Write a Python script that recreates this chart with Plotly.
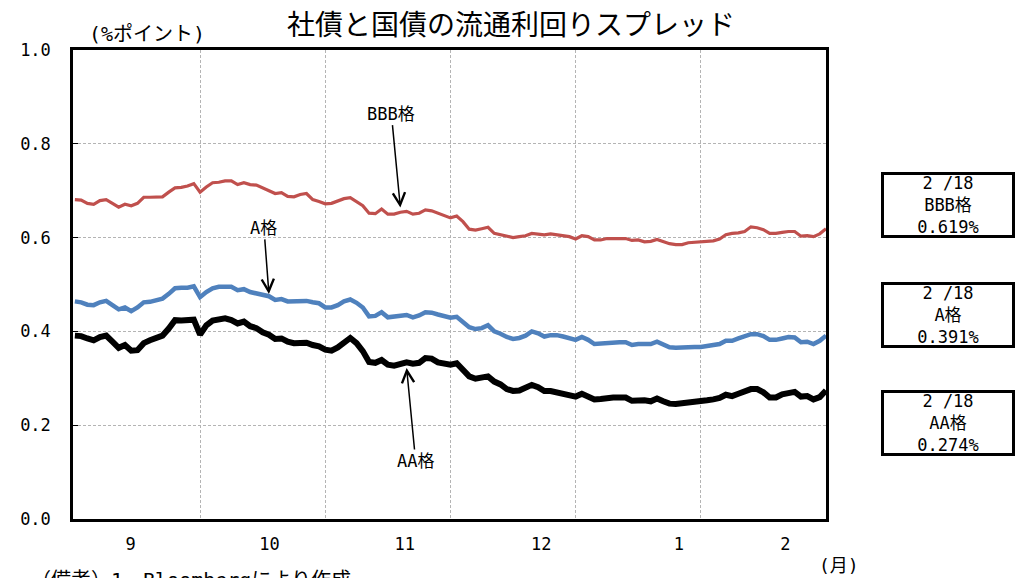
import plotly.graph_objects as go

# ---- data (business-day index 0..120) ----
bbb = [0.681,0.680,0.673,0.671,0.679,0.681,0.673,0.665,0.671,0.668,
       0.673,0.686,0.686,0.686,0.687,0.697,0.706,0.707,0.710,0.715,
       0.697,0.708,0.717,0.718,0.721,0.721,0.713,0.717,0.713,0.712,
       0.706,0.700,0.694,0.696,0.688,0.687,0.692,0.694,0.681,0.677,
       0.672,0.673,0.678,0.683,0.685,0.677,0.668,0.652,0.651,0.661,
       0.650,0.650,0.654,0.656,0.650,0.652,0.659,0.657,0.652,0.648,
       0.642,0.646,0.634,0.618,0.616,0.619,0.622,0.609,0.606,0.602,
       0.600,0.602,0.604,0.609,0.608,0.606,0.608,0.606,0.605,0.602,
       0.597,0.604,0.602,0.595,0.595,0.598,0.598,0.598,0.598,0.594,
       0.595,0.591,0.592,0.596,0.591,0.587,0.585,0.585,0.589,0.590,
       0.590,0.592,0.593,0.597,0.606,0.609,0.610,0.613,0.623,0.621,
       0.617,0.609,0.609,0.611,0.613,0.613,0.603,0.604,0.602,0.608,
       0.619]
a_grade = [0.464,0.462,0.457,0.456,0.462,0.465,0.456,0.447,0.451,0.443,
           0.451,0.462,0.463,0.467,0.470,0.480,0.492,0.493,0.493,0.496,
           0.473,0.484,0.492,0.495,0.496,0.495,0.488,0.490,0.484,0.481,
           0.477,0.475,0.467,0.469,0.464,0.465,0.466,0.465,0.462,0.460,
           0.451,0.451,0.456,0.464,0.468,0.461,0.451,0.432,0.433,0.441,
           0.430,0.431,0.433,0.435,0.430,0.434,0.441,0.440,0.436,0.433,
           0.429,0.431,0.420,0.409,0.405,0.407,0.413,0.400,0.395,0.388,
           0.384,0.386,0.391,0.400,0.396,0.389,0.392,0.392,0.389,0.386,
           0.382,0.388,0.382,0.373,0.374,0.377,0.377,0.377,0.377,0.371,
           0.373,0.372,0.373,0.378,0.371,0.366,0.365,0.366,0.368,0.367,
           0.367,0.369,0.370,0.373,0.380,0.380,0.385,0.390,0.394,0.394,
           0.390,0.382,0.382,0.385,0.388,0.387,0.377,0.378,0.373,0.380,
           0.391]
aa = [0.391,0.390,0.385,0.381,0.388,0.391,0.378,0.365,0.371,0.359,
      0.360,0.375,0.381,0.387,0.391,0.406,0.424,0.423,0.423,0.425,
      0.393,0.413,0.423,0.426,0.428,0.424,0.417,0.421,0.411,0.407,
      0.398,0.393,0.384,0.385,0.378,0.375,0.377,0.376,0.371,0.368,
      0.361,0.359,0.366,0.377,0.386,0.375,0.358,0.335,0.333,0.339,
      0.329,0.327,0.332,0.334,0.331,0.333,0.343,0.342,0.334,0.331,
      0.329,0.332,0.319,0.304,0.299,0.300,0.304,0.293,0.287,0.277,
      0.273,0.274,0.280,0.286,0.281,0.273,0.273,0.270,0.265,0.262,
      0.261,0.267,0.262,0.255,0.256,0.259,0.259,0.259,0.259,0.252,
      0.253,0.253,0.251,0.257,0.251,0.246,0.245,0.246,0.249,0.249,
      0.249,0.253,0.255,0.258,0.265,0.262,0.267,0.272,0.277,0.277,
      0.270,0.259,0.259,0.266,0.270,0.271,0.261,0.262,0.255,0.260,
      0.274]
month_labels = ["9", "10", "11", "12", "1", "2"]
month_tick_pos = [8.9, 31.1, 52.7, 74.5, 96.5, 113.5]
grid_pos = [20, 40, 60, 80, 100]
latest_date = "2 /18"
series_names = ["BBB格", "A格", "AA格"]

x = list(range(len(bbb)))

FONT = "Noto Sans CJK JP"
MONO = "DejaVu Sans Mono, Noto Sans CJK JP"

fig = go.Figure()
fig.add_trace(go.Scatter(x=x, y=bbb, mode="lines", name=series_names[0],
                         line=dict(color="#c0504d", width=3.2)))
fig.add_trace(go.Scatter(x=x, y=a_grade, mode="lines", name=series_names[1],
                         line=dict(color="#4f81bd", width=4.5)))
fig.add_trace(go.Scatter(x=x, y=aa, mode="lines", name=series_names[2],
                         line=dict(color="#000000", width=6)))

# page body has an 8px margin; lay out the figure so the plot area lands
# at page pixels x 68..826, y 50..519
OFF = 8
W, H = 1023 - OFF, 578 - OFF
PL, PR, PT, PB = 68, 826, 50, 519
L, R, T, B = PL - OFF, W - (PR - OFF), PT - OFF, H - (PB - OFF)

fig.update_layout(
    width=W, height=H,
    margin=dict(l=L, r=R, t=T, b=B, pad=0),
    paper_bgcolor="white", plot_bgcolor="white",
    showlegend=False,
    font=dict(family=FONT, size=17, color="black"),
    title=dict(text="社債と国債の流通利回りスプレッド",
               x=(511 - OFF) / W, xref="container", xanchor="center",
               y=1 - (25 - OFF) / H, yref="container", yanchor="middle",
               font=dict(family=FONT, size=28, color="black")),
)

fig.update_xaxes(
    range=[-0.3, len(bbb) - 1],
    tickmode="array", tickvals=month_tick_pos, ticktext=month_labels,
    showgrid=False, ticks="", ticklabelstandoff=8,
    showline=True, linecolor="black", linewidth=2.5, mirror=True,
    tickfont=dict(family=MONO, size=17),
    zeroline=False,
    minor=dict(tickmode="array", tickvals=grid_pos, showgrid=True,
               gridcolor="#b4b4b4", gridwidth=1, griddash="3px,2px", ticks=""),
)
fig.update_yaxes(
    range=[0, 1], dtick=0.2, tickformat=".1f",
    showgrid=True, gridcolor="#b4b4b4", gridwidth=1, griddash="3px,2px",
    ticks="inside", ticklen=5, tickcolor="black", tickwidth=1,
    ticklabelstandoff=16,
    showline=True, linecolor="black", linewidth=2.5, mirror=True,
    tickfont=dict(family=MONO, size=17),
    zeroline=False,
)

def px_to_paper_x(px):
    return (px - PL) / (PR - PL)

def py_to_paper_y(py):
    return (PB - py) / (PB - PT)

# unit labels
fig.add_annotation(text="(%ポイント)", xref="paper", yref="paper",
                   x=px_to_paper_x(142), y=py_to_paper_y(34),
                   xanchor="center", yanchor="middle",
                   showarrow=False, font=dict(family=MONO, size=20))
fig.add_annotation(text="(月)", xref="paper", yref="paper",
                   x=px_to_paper_x(839), y=py_to_paper_y(565),
                   xanchor="center", yanchor="middle",
                   showarrow=False, font=dict(family=MONO, size=18))
fig.add_annotation(text="（備考）1．Bloombergにより作成", xref="paper", yref="paper",
                   x=px_to_paper_x(24), y=py_to_paper_y(566),
                   xanchor="left", yanchor="top",
                   showarrow=False, font=dict(family=MONO, size=20))

# arrow labels
arrow_style = dict(showarrow=True, arrowhead=5, arrowsize=1.6, arrowwidth=1.5,
                   arrowcolor="black", font=dict(family=MONO, size=17))
fig.add_annotation(text=series_names[0], x=52, y=bbb[52] + 0.01, ax=-9, ay=-94, **arrow_style)
fig.add_annotation(text=series_names[1], x=31, y=a_grade[31] + 0.005, ax=-5, ay=-66, **arrow_style)
fig.add_annotation(text=series_names[2], x=53, y=aa[53] - 0.012, ax=9, ay=93, **arrow_style)

# latest value boxes
box_centers_py = [205, 315, 423]
for name, series, cy in zip(series_names, [bbb, a_grade, aa], box_centers_py):
    fig.add_annotation(
        text=f"{latest_date}<br>{name}<br>{series[-1]:.3f}%",
        xref="paper", yref="paper", x=px_to_paper_x(949), y=py_to_paper_y(cy),
        xanchor="center", yanchor="middle", showarrow=False,
        width=126, height=58, align="center", valign="middle",
        bordercolor="black", borderwidth=3, borderpad=1, bgcolor="white",
        font=dict(family=MONO, size=17),
    )

fig.write_html("out.html")
